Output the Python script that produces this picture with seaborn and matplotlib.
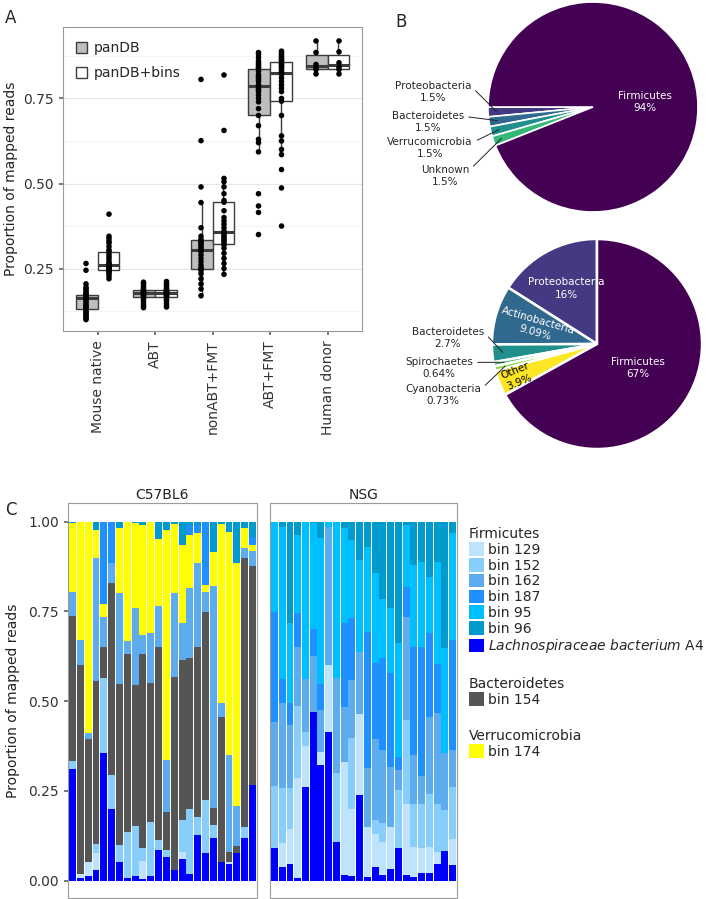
import numpy as np
import pandas as pd
import matplotlib
matplotlib.use('Agg')
import matplotlib.pyplot as plt
from matplotlib.patches import Patch
import seaborn as sns

sns.set_theme(style='white')
plt.rcParams['font.family'] = ['DejaVu Sans']

W, H = 710, 899

# ---------------- panel A data ----------------
groups = ['Mouse native', 'ABT', 'nonABT+FMT', 'ABT+FMT', 'Human donor']
dbs = ['panDB', 'panDB+bins']

mouse_pandb = [0.100, 0.104, 0.108, 0.112, 0.116, 0.120, 0.124, 0.128, 0.131, 0.134, 0.138,
               0.142, 0.147, 0.152, 0.157, 0.162, 0.165, 0.166, 0.168, 0.169, 0.170, 0.171,
               0.172, 0.173, 0.175, 0.180, 0.185, 0.190, 0.195, 0.205, 0.245, 0.265]
mouse_bins = [0.220, 0.228, 0.235, 0.240, 0.242, 0.244, 0.245, 0.246, 0.248, 0.250, 0.252,
              0.254, 0.256, 0.258, 0.260, 0.262, 0.265, 0.270, 0.278, 0.285, 0.292, 0.300,
              0.305, 0.315, 0.325, 0.330, 0.338, 0.345, 0.410]
abt_pandb = [0.135, 0.140, 0.145, 0.152, 0.158, 0.164, 0.168, 0.170, 0.172, 0.175, 0.177,
             0.179, 0.180, 0.182, 0.184, 0.185, 0.186, 0.190, 0.195, 0.200, 0.205, 0.210]
abt_bins = [0.137, 0.142, 0.148, 0.155, 0.160, 0.166, 0.169, 0.171, 0.173, 0.176, 0.178,
            0.180, 0.181, 0.183, 0.185, 0.186, 0.188, 0.192, 0.197, 0.202, 0.207, 0.212]
nonabt_pandb = [0.170, 0.190, 0.205, 0.220, 0.235, 0.245, 0.248, 0.252, 0.260, 0.270, 0.280,
                0.290, 0.300, 0.306, 0.310, 0.315, 0.320, 0.325, 0.330, 0.332, 0.335, 0.345,
                0.370, 0.444, 0.490, 0.626, 0.806]
nonabt_bins = [0.233, 0.250, 0.265, 0.280, 0.295, 0.310, 0.320, 0.324, 0.330, 0.335, 0.340,
               0.345, 0.350, 0.356, 0.360, 0.370, 0.380, 0.390, 0.400, 0.420, 0.445, 0.450,
               0.470, 0.490, 0.505, 0.515, 0.656, 0.819]
abtfmt_pandb = [0.350, 0.415, 0.434, 0.470, 0.593, 0.620, 0.630, 0.670, 0.700, 0.720, 0.740,
                0.750, 0.760, 0.770, 0.775, 0.780, 0.786, 0.790, 0.800, 0.805, 0.810, 0.815,
                0.820, 0.830, 0.838, 0.840, 0.845, 0.850, 0.855, 0.860, 0.870, 0.880, 0.885]
abtfmt_bins = [0.375, 0.487, 0.541, 0.585, 0.600, 0.625, 0.640, 0.700, 0.742, 0.750, 0.770,
               0.780, 0.790, 0.800, 0.810, 0.820, 0.825, 0.830, 0.835, 0.840, 0.843, 0.846,
               0.850, 0.853, 0.856, 0.860, 0.863, 0.866, 0.870, 0.875, 0.880, 0.885, 0.889]
human_pandb = [0.822, 0.835, 0.840, 0.850, 0.885, 0.919]
human_bins = [0.822, 0.835, 0.842, 0.855, 0.887, 0.919]

pandb_vals = [mouse_pandb, abt_pandb, nonabt_pandb, abtfmt_pandb, human_pandb]
bins_vals = [mouse_bins, abt_bins, nonabt_bins, abtfmt_bins, human_bins]

# ---------------- panel B data ----------------
top_names = ['Proteobacteria', 'Bacteroidetes', 'Verrucomicrobia', 'Unknown', 'Firmicutes']
top_pct = [1.5, 1.5, 1.5, 1.5, 94]
top_colors = ['#443983', '#31688e', '#21908d', '#35b779', '#440154']

bot_names = ['Proteobacteria', 'Actinobacteria', 'Bacteroidetes', 'Spirochaetes',
             'Cyanobacteria', 'Other', 'Firmicutes']
bot_pct = [16, 9.09, 2.7, 0.64, 0.73, 3.9, 67]
bot_colors = ['#443983', '#31688e', '#21908d', '#35b779', '#8fd744', '#fde725', '#440154']

# ---------------- panel C data ----------------
taxa = ['Lachnospiraceae bacterium A4', 'bin 129', 'bin 152', 'bin 154', 'bin 162',
        'bin 174', 'bin 187', 'bin 95', 'bin 96']
bin_colors = {'Lachnospiraceae bacterium A4': '#0000ff', 'bin 129': '#bde4fc',
              'bin 152': '#87cefa', 'bin 154': '#555555', 'bin 162': '#5cacee',
              'bin 174': '#ffff00', 'bin 187': '#1e90ff', 'bin 95': '#00bfff',
              'bin 96': '#009acd'}

c57_a4 = [.311, .007, .013, .030, .355, .200, .051, .007, .013, .004, .013, .087,
          .067, .030, .062, .020, .127, .076, .120, .053, .048, .078, .118, .267]
c57_b129 = [0, .012, .040, .046, 0, 0, 0, 0, 0, .051, 0, 0,
            0, 0, .019, 0, 0, 0, 0, 0, .005, 0, 0, 0]
c57_b152 = [.023, 0, 0, .026, .209, .094, .048, .129, .139, .035, .151, .026,
            .018, 0, .088, .181, .051, .149, .035, 0, 0, 0, .032, 0]
c57_b154 = [.403, .582, .343, .455, .088, .536, .449, .495, .393, .541, .388, .539,
            .107, .538, .446, .418, .474, .524, .048, .404, .028, .019, .748, .610]
c57_b162 = [.068, .069, .016, .343, .083, .056, .252, .038, .214, .053, .137, .113,
            .144, .232, .102, .195, .232, .056, .618, .039, .269, .111, .028, .042]
c57_b174 = [.190, .330, .588, .077, .036, 0, .181, .331, .236, .307, .311, .186,
            .641, .193, .218, .149, .084, .019, .095, .497, .622, .676, .055, .016]
c57_b187 = [0, 0, 0, 0, .229, .114, 0, 0, 0, 0, 0, 0,
            0, 0, 0, .028, .023, .176, 0, 0, 0, 0, 0, .023]
c57_b95 = [0, 0, 0, 0, 0, 0, 0, 0, 0, 0, 0, 0,
           0, 0, 0, 0, 0, 0, 0, 0, 0, 0, 0, 0]
c57_b96 = [.005, 0, 0, .023, 0, 0, .019, 0, .005, .009, 0, .049,
           .023, .007, .065, .009, .009, 0, .084, .007, .028, .116, .019, .042]

nsg_a4 = [.090, .039, .046, .007, .262, .471, .322, .415, .109, .016, .014, .239,
          .011, .037, .016, .034, .090, .016, .011, .022, .022, .048, .083, .044]
nsg_b129 = [0, .065, .097, .278, .113, 0, .037, .186, 0, .315, .185, .225,
            .139, .093, .093, .116, 0, .199, .084, .068, .073, .033, 0, .072]
nsg_b152 = [.174, .155, .116, .202, .040, 0, 0, 0, .190, 0, .199, 0,
            0, .039, .051, 0, .163, .233, .120, .125, .146, .134, .114, .146]
nsg_b154 = [0, 0, 0, 0, 0, 0, 0, 0, 0, 0, 0, 0,
            0, 0, 0, 0, 0, 0, 0, 0, 0, 0, 0, 0]
nsg_b162 = [.179, .237, .175, .165, .146, .155, .116, .383, .265, .154, .161, .174,
            .165, .227, .204, .168, .055, .287, .135, .077, .216, .253, .158, .102]
nsg_b174 = [0, 0, 0, 0, 0, 0, 0, 0, 0, 0, 0, 0,
            0, 0, 0, 0, 0, 0, 0, 0, 0, 0, 0, 0]
nsg_b187 = [.306, .065, .062, .093, 0, .074, .072, 0, 0, .232, .174, 0,
            .379, .211, .255, .260, .037, .084, .302, .360, .232, .137, 0, .306]
nsg_b95 = [.251, .425, .221, .218, .439, .295, .408, .016, .436, .264, .216, .255,
           .236, .249, .167, .181, .316, .172, .227, .237, .158, .284, .292, .298]
nsg_b96 = [0, .014, .283, .037, 0, .005, .045, 0, 0, .019, .051, .107,
           .070, .144, .214, .241, .339, .009, .121, .111, .153, .111, .353, .032]

fig = plt.figure(figsize=(W / 100, H / 100), dpi=100)


def px(x0, y0, x1, y1):
    # pixel box (top-left origin) -> figure rect
    return [x0 / W, 1 - y1 / H, (x1 - x0) / W, (y1 - y0) / H]


# ---------------- panel A ----------------
axA = fig.add_axes(px(63, 27, 362, 331))
rows = []
for g, a, b in zip(groups, pandb_vals, bins_vals):
    rows += [(g, 'panDB', v) for v in a]
    rows += [(g, 'panDB+bins', v) for v in b]
dfA = pd.DataFrame(rows, columns=['group', 'db', 'value'])

axA.set_yticks([0.25, 0.5, 0.75])
axA.set_yticks([0.125, 0.375, 0.625, 0.875], minor=True)
axA.grid(True, which='major', color='#e6e6e6', lw=0.8)
axA.grid(True, which='minor', axis='y', color='#f2f2f2', lw=0.6)
axA.set_axisbelow(True)

sns.boxplot(data=dfA, x='group', y='value', hue='db', order=groups, hue_order=dbs,
            palette={'panDB': '#bebebe', 'panDB+bins': 'white'}, width=0.76, gap=0,
            showfliers=False, showcaps=False, linecolor='#3c3c3c', linewidth=1,
            medianprops=dict(linewidth=2.2), ax=axA)
sns.stripplot(data=dfA, x='group', y='value', hue='db', order=groups, hue_order=dbs,
              dodge=True, jitter=False, palette={'panDB': 'black', 'panDB+bins': 'black'},
              size=4, legend=False, ax=axA)
sns.move_legend(axA, 'upper left', title=None, frameon=False, fontsize=10,
                labelspacing=0.8, handlelength=0.8, handleheight=0.8, handletextpad=0.5,
                bbox_to_anchor=(0.0, 0.995))
axA.set_xlim(-0.6, 4.6)
axA.set_ylim(0.0665, 0.96)
axA.set_xlabel('')
axA.set_ylabel('Proportion of mapped reads', fontsize=10, color='#222')
axA.set_yticklabels(['0.25', '0.50', '0.75'])
axA.tick_params(axis='both', which='major', length=3, color='#666', labelsize=10,
                labelcolor='#333', left=True, bottom=True)
axA.tick_params(axis='y', which='minor', length=0)
axA.tick_params(axis='x', labelrotation=90)
for s in axA.spines.values():
    s.set_color('#9a9a9a')
    s.set_linewidth(0.8)
fig.text(5 / W, 1 - 18 / H, 'A', fontsize=12, va='center')

# ---------------- panel B ----------------
axB = fig.add_axes(px(380, 0, 710, 470))
wp = dict(edgecolor='white', linewidth=1.2)
top_w, _ = axB.pie(top_pct, colors=top_colors, startangle=180, counterclock=True,
                   explode=[0.07, 0.07, 0.07, 0.07, 0], radius=105,
                   center=(593, H - 107), wedgeprops=wp)
bot_w, _ = axB.pie(bot_pct, colors=bot_colors, startangle=90, counterclock=True,
                   explode=[0.1, 0.1, 0.1, 0.1, 0.1, 0.1, 0.03], radius=105,
                   center=(597, H - 344), wedgeprops=dict(edgecolor='white', linewidth=1.8))
axB.set_xlim(380, 710)
axB.set_ylim(H - 470, H)
axB.set_aspect('equal')
axB.axis('off')


def wedge_point(w, frac):
    a = np.deg2rad((w.theta1 + w.theta2) / 2)
    cx, cy = w.center
    return cx + frac * w.r * np.cos(a), cy + frac * w.r * np.sin(a)


def pct_text(v):
    return '{:g}%'.format(v)


fs_pie = 7.5
# top pie: Firmicutes inside, the rest outside with leaders
x, y = wedge_point(top_w[4], 0.5)
axB.text(x, y - 5, top_names[4] + '\n' + pct_text(top_pct[4]), color='white', fontsize=fs_pie,
         ha='center', va='center', linespacing=1.3)
top_txt = [(433, 92), (428, 122), (430, 148), (445, 176)]
for i in range(4):
    tx, ty = top_txt[i]
    axB.annotate(top_names[i] + '\n' + pct_text(top_pct[i]), xy=wedge_point(top_w[i], 0.92),
                 xytext=(tx, H - ty), fontsize=fs_pie, ha='center', va='center',
                 linespacing=1.3,
                 arrowprops=dict(arrowstyle='-', color='#222', lw=0.7,
                                 relpos=(1.0, 0.75), shrinkA=1, shrinkB=0))

# bottom pie
inside = {0: (0.6, 'white', False), 1: (0.6, 'white', True),
          5: (0.82, 'black', True), 6: (0.45, 'white', False)}
for i, (frac, col, rot) in inside.items():
    w = bot_w[i]
    x, y = wedge_point(w, frac)
    ang = (w.theta1 + w.theta2) / 2 - 180 if rot else 0
    axB.text(x, y, bot_names[i] + '\n' + pct_text(bot_pct[i]), color=col, fontsize=fs_pie,
             ha='center', va='center', rotation=ang, rotation_mode='anchor',
             linespacing=1.3)
bot_txt = {2: (448, 338), 3: (439, 368), 4: (443, 395)}
for i, (tx, ty) in bot_txt.items():
    axB.annotate(bot_names[i] + '\n' + pct_text(bot_pct[i]), xy=wedge_point(bot_w[i], 0.9),
                 xytext=(tx, H - ty), fontsize=fs_pie, ha='center', va='center',
                 linespacing=1.3,
                 arrowprops=dict(arrowstyle='-', color='#222', lw=0.7,
                                 relpos=(1.0, 0.75), shrinkA=1, shrinkB=0))
fig.text(395 / W, 1 - 22 / H, 'B', fontsize=12, va='center')

# ---------------- panel C ----------------
c57 = pd.DataFrame(dict(zip(taxa, [c57_a4, c57_b129, c57_b152, c57_b154, c57_b162,
                                   c57_b174, c57_b187, c57_b95, c57_b96])))
nsg = pd.DataFrame(dict(zip(taxa, [nsg_a4, nsg_b129, nsg_b152, nsg_b154, nsg_b162,
                                   nsg_b174, nsg_b187, nsg_b95, nsg_b96])))

axC1 = fig.add_axes(px(68, 503, 257, 898))
axC2 = fig.add_axes(px(270, 503, 457, 898))
for ax, df, title in [(axC1, c57, 'C57BL6'), (axC2, nsg, 'NSG')]:
    df.plot(kind='bar', stacked=True, ax=ax, width=0.88, linewidth=0,
            color=[bin_colors[t] for t in taxa], legend=False)
    ax.set_xlim(-0.57, len(df) - 0.43)
    ax.set_ylim(-0.048, 1.052)
    ax.set_xticks([])
    ax.set_xlabel('')
    ax.set_title(title, fontsize=10, pad=3, color='#222')
    for s in ax.spines.values():
        s.set_color('#9a9a9a')
        s.set_linewidth(0.8)
axC1.set_yticks([0, 0.25, 0.5, 0.75, 1.0])
axC1.set_yticklabels(['0.00', '0.25', '0.50', '0.75', '1.00'])
axC1.tick_params(axis='y', length=3, color='#666', labelsize=10, labelcolor='#333', left=True)
axC1.set_ylabel('Proportion of mapped reads', fontsize=10, color='#222', labelpad=6)
axC2.set_yticks([])
fig.text(5 / W, 1 - 510 / H, 'C', fontsize=12, va='center')

# legend for panel C
firm = ['bin 129', 'bin 152', 'bin 162', 'bin 187', 'bin 95', 'bin 96',
        'Lachnospiraceae bacterium A4']
leg_groups = [('Firmicutes', firm, 527), ('Bacteroidetes', ['bin 154'], 677),
              ('Verrucomicrobia', ['bin 174'], 729)]
for title, items, ytop in leg_groups:
    handles = [Patch(facecolor=bin_colors[t], edgecolor='none') for t in items]
    labels = [r'$\it{Lachnospiraceae}$ $\it{bacterium}$ A4' if t.startswith('Lach') else t
              for t in items]
    fig.legend(handles, labels, title=title, loc='upper left',
               bbox_to_anchor=(469 / W, 1 - ytop / H), frameon=False, fontsize=10,
               title_fontsize=10, alignment='left', handlelength=1.1,
               handleheight=1.1, handletextpad=0.25, labelspacing=0.1,
               borderpad=0, borderaxespad=0)

fig.savefig('out.png', dpi=100)
